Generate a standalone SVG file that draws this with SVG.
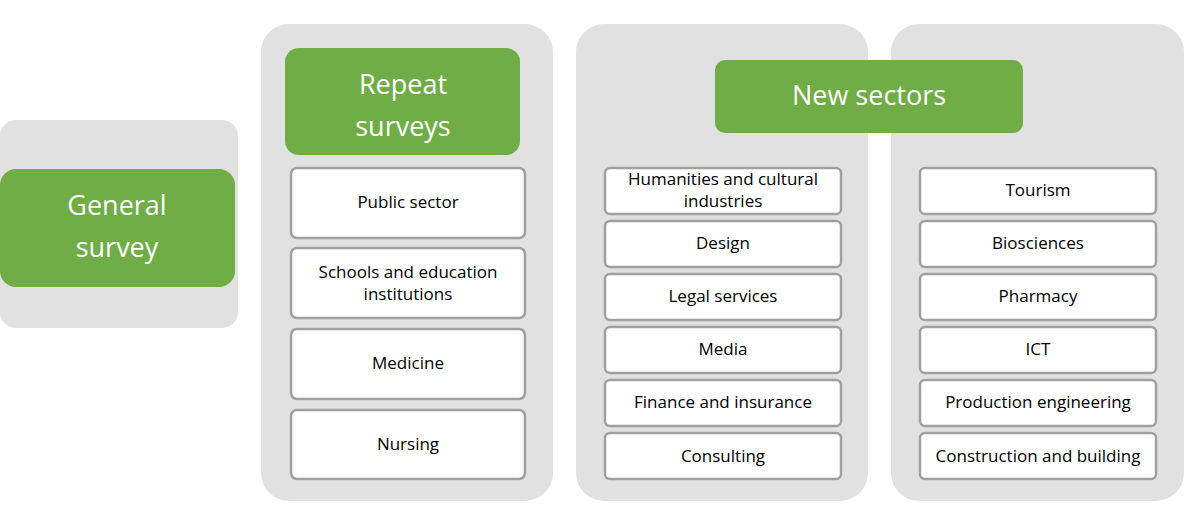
<svg xmlns="http://www.w3.org/2000/svg" width="1203" height="521" viewBox="0 0 1203 521">
<style>
.panel{fill:#e1e1e1}
.green{fill:#70ad47}
.box{fill:#ffffff;stroke:#a0a0a0;stroke-width:2.5}
.gt{font-family:"Open Sans","Liberation Sans",sans-serif;font-size:27px;fill:#ffffff;text-anchor:middle}
.bt{font-family:"Open Sans","Liberation Sans",sans-serif;font-size:17px;fill:#000000;text-anchor:middle}
</style>
<rect width="1203" height="521" fill="#ffffff"/>
<g id="panels">
<rect class="panel" x="0" y="120" width="238" height="208" rx="16"/>
<rect class="panel" x="261" y="24" width="292" height="477" rx="28"/>
<rect class="panel" x="576" y="24" width="292" height="477" rx="28"/>
<rect class="panel" x="891" y="24" width="293" height="477" rx="28"/>
</g>
<g id="general-survey">
<rect class="green" x="0" y="169" width="235" height="118" rx="16"/>
<text class="gt" x="117" y="215">General</text>
<text class="gt" x="117" y="257">survey</text>
</g>
<g id="repeat-surveys">
<rect class="green" x="285" y="48" width="235" height="107" rx="14"/>
<text class="gt" x="403" y="94">Repeat</text>
<text class="gt" x="403" y="136">surveys</text>
</g>
<g id="new-sectors">
<rect class="green" x="715" y="60" width="308" height="73" rx="10"/>
<text class="gt" x="869" y="105">New sectors</text>
</g>
<g id="public-sector"><rect class="box" x="291" y="168" width="234" height="70" rx="6"/><text class="bt" x="408" y="208">Public sector</text></g>
<g id="schools"><rect class="box" x="291" y="248" width="234" height="70" rx="6"/><text class="bt" x="408" y="278">Schools and education</text><text class="bt" x="408" y="300">institutions</text></g>
<g id="medicine"><rect class="box" x="291" y="329" width="234" height="70" rx="6"/><text class="bt" x="408" y="369">Medicine</text></g>
<g id="nursing"><rect class="box" x="291" y="410" width="234" height="69" rx="6"/><text class="bt" x="408" y="450">Nursing</text></g>
<g id="humanities"><rect class="box" x="605" y="168" width="236" height="46" rx="5"/><text class="bt" x="723" y="185">Humanities and cultural</text><text class="bt" x="723" y="207">industries</text></g>
<g id="design"><rect class="box" x="605" y="221" width="236" height="46" rx="5"/><text class="bt" x="723" y="249">Design</text></g>
<g id="legal"><rect class="box" x="605" y="274" width="236" height="46" rx="5"/><text class="bt" x="723" y="302">Legal services</text></g>
<g id="media"><rect class="box" x="605" y="327" width="236" height="46" rx="5"/><text class="bt" x="723" y="355">Media</text></g>
<g id="finance"><rect class="box" x="605" y="380" width="236" height="46" rx="5"/><text class="bt" x="723" y="408">Finance and insurance</text></g>
<g id="consulting"><rect class="box" x="605" y="433" width="236" height="46" rx="5"/><text class="bt" x="723" y="462">Consulting</text></g>
<g id="tourism"><rect class="box" x="920" y="168" width="236" height="46" rx="5"/><text class="bt" x="1038" y="196">Tourism</text></g>
<g id="biosciences"><rect class="box" x="920" y="221" width="236" height="46" rx="5"/><text class="bt" x="1038" y="249">Biosciences</text></g>
<g id="pharmacy"><rect class="box" x="920" y="274" width="236" height="46" rx="5"/><text class="bt" x="1038" y="302">Pharmacy</text></g>
<g id="ict"><rect class="box" x="920" y="327" width="236" height="46" rx="5"/><text class="bt" x="1038" y="355">ICT</text></g>
<g id="production"><rect class="box" x="920" y="380" width="236" height="46" rx="5"/><text class="bt" x="1038" y="408">Production engineering</text></g>
<g id="construction"><rect class="box" x="920" y="433" width="236" height="46" rx="5"/><text class="bt" x="1038" y="462">Construction and building</text></g>
<g id="connectors"></g>
</svg>
